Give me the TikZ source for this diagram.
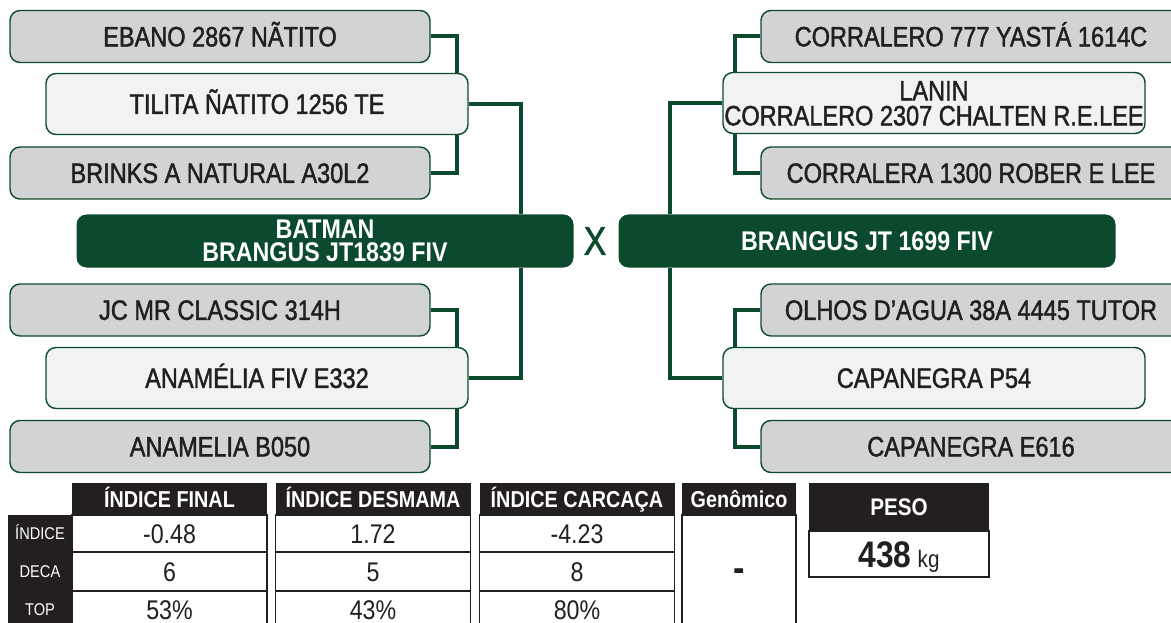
\documentclass[tikz,border=0pt]{standalone}
\usepackage{fontspec}
\setmainfont{Liberation Sans}
\newfontfamily\boxfont[FakeStretch=0.84,FakeBold=1.5]{Liberation Sans}
\newfontfamily\darkfont[FakeStretch=0.86]{Liberation Sans}
\newfontfamily\tabfont[FakeStretch=0.86]{Liberation Sans}
\usepackage{tikz}
\usetikzlibrary{calc}
\definecolor{pedgreen}{HTML}{0B4A2C}
\definecolor{grandgrey}{HTML}{D1D3D4}
\definecolor{parentgrey}{HTML}{F1F2F3}
\definecolor{inkblack}{HTML}{231F20}
\tikzset{
  grandbox/.style={
    rectangle,
    rounded corners=10pt,
    draw=pedgreen,
    line width=1.4pt,
    fill=grandgrey,
    text=inkblack,
    align=center,
    inner sep=0pt,
    text height=20pt,
    minimum width=420pt,
    minimum height=52pt,
    font=\boxfont\fontsize{28}{25}\selectfont
  },
  parentbox/.style={
    grandbox,
    fill=parentgrey,
    minimum width=422pt,
    minimum height=61pt
  },
  animalbox/.style={
    rectangle,
    rounded corners=10pt,
    fill=pedgreen,
    text=white,
    align=center,
    inner sep=0pt,
    text height=19.3pt,
    minimum width=497pt,
    minimum height=53pt,
    font=\darkfont\bfseries\fontsize{27}{23}\selectfont
  },
  link/.style={draw=pedgreen, line width=4pt},
  headcell/.style={
    rectangle,
    fill=inkblack,
    text=white,
    inner sep=0pt,
    text height=16.5pt,
    text depth=0pt,
    minimum height=32pt,
    font=\tabfont\bfseries\fontsize{23}{23}\selectfont
  },
  valcell/.style={
    rectangle,
    draw=inkblack,
    line width=1.2pt,
    fill=white,
    text=inkblack,
    inner sep=0pt,
    text height=19.3pt,
    text depth=0pt,
    font=\tabfont\fontsize{27}{27}\selectfont
  },
  rowlabel/.style={
    rectangle,
    fill=inkblack,
    text=white,
    inner sep=0pt,
    text height=12.2pt,
    text depth=0pt,
    minimum width=64pt,
    font=\tabfont\fontsize{17}{17}\selectfont
  }
}

\begin{document}
\begin{tikzpicture}[x=1pt,y=-1pt]
  \useasboundingbox (0,0) rectangle (1171,623);

  % sire side
  \node[grandbox] (ebano) at (220,36.5) {EBANO 2867 NÃTITO};
  \node[parentbox] (tilita) at (257,104) {TILITA ÑATITO 1256 TE};
  \node[grandbox] (brinks) at (220,173) {BRINKS A NATURAL A30L2};
  \node[grandbox] (jcmr) at (220,310) {JC MR CLASSIC 314H};
  \node[parentbox] (anamfiv) at (257,378) {ANAMÉLIA FIV E332};
  \node[grandbox] (anamb) at (220,446.5) {ANAMELIA B050};
  \node[animalbox, text height=42.3pt] (batman) at (325,241) {BATMAN\\BRANGUS JT1839 FIV};

  % dam side
  \node[grandbox] (corr777) at (971,36.5) {CORRALERO 777 YASTÁ 1614C};
  \node[parentbox, text height=45pt] (lanin) at (934,103) {LANIN\\CORRALERO 2307 CHALTEN R.E.LEE};
  \node[grandbox] (corr1300) at (971,173) {CORRALERA 1300 ROBER E LEE};
  \node[grandbox] (olhos) at (971,310) {OLHOS D’AGUA 38A 4445 TUTOR};
  \node[parentbox] (capp54) at (934,378) {CAPANEGRA P54};
  \node[grandbox] (cape616) at (971,446.5) {CAPANEGRA E616};
  \node[animalbox] (brangus) at (867,241) {BRANGUS JT 1699 FIV};

  \node[text=pedgreen, inner sep=0pt, font=\boxfont\fontsize{40}{40}\selectfont] (cross) at (595,241) {X};

  \coordinate (lsplit) at (457,0);
  \coordinate (lmain) at (521,0);
  \coordinate (rsplit) at (735,0);
  \coordinate (rmain) at (670,0);

  \draw[link] (ebano.east) -| (tilita.north -| lsplit);
  \draw[link] (brinks.east) -| (tilita.south -| lsplit);
  \draw[link] (tilita.east) -| (batman.north -| lmain);
  \draw[link] (jcmr.east) -| (anamfiv.north -| lsplit);
  \draw[link] (anamb.east) -| (anamfiv.south -| lsplit);
  \draw[link] (anamfiv.east) -| (batman.south -| lmain);
  \draw[link] (corr777.west) -| (lanin.north -| rsplit);
  \draw[link] (corr1300.west) -| (lanin.south -| rsplit);
  \draw[link] (lanin.west) -| (brangus.north -| rmain);
  \draw[link] (olhos.west) -| (capp54.north -| rsplit);
  \draw[link] (cape616.west) -| (capp54.south -| rsplit);
  \draw[link] (capp54.west) -| (brangus.south -| rmain);

  % index table
  \node[rowlabel, minimum height=37pt] (lindice) at (40,533.5) {ÍNDICE};
  \node[rowlabel, minimum height=39pt] (ldeca) at (40,571.5) {DECA};
  \node[rowlabel, minimum height=37pt] (ltop) at (40,609.5) {TOP};
  \foreach \cid/\cx/\head/\va/\vb/\vc in {fin/169.5/ÍNDICE FINAL/-0.48/6/53\%,
      des/373/ÍNDICE DESMAMA/1.72/5/43\%, car/577/ÍNDICE CARCAÇA/-4.23/8/80\%} {
    \node[headcell, minimum width=195pt] (h\cid) at (\cx,499) {\head};
    \node[valcell, minimum width=195pt, minimum height=37pt] (i\cid) at (\cx,533.5) {\va};
    \node[valcell, minimum width=195pt, minimum height=39pt] (d\cid) at (\cx,571.5) {\vb};
    \node[valcell, minimum width=195pt, minimum height=37pt] (t\cid) at (\cx,609.5) {\vc};
  }

  \node[headcell, minimum width=114pt] (hgen) at (739,499) {Genômico};
  \node[valcell, minimum width=114pt, minimum height=113pt] (bgen) at (739,571.5) {};
  \node[inner sep=0pt, text=inkblack, font=\tabfont\bfseries\fontsize{40}{40}\selectfont] (nogen) at (739,575) {-};

  \node[headcell, minimum width=180pt, minimum height=48pt, font=\tabfont\bfseries\fontsize{24}{24}\selectfont] (hpeso) at (899,507) {PESO};
  \node[valcell, minimum width=180pt, minimum height=46pt, text height=26.5pt,
    font=\tabfont\bfseries\fontsize{37}{37}\selectfont] (bpeso) at (899,554)
    {438\,{\mdseries\fontsize{24}{24}\selectfont kg}};
\end{tikzpicture}
\end{document}
